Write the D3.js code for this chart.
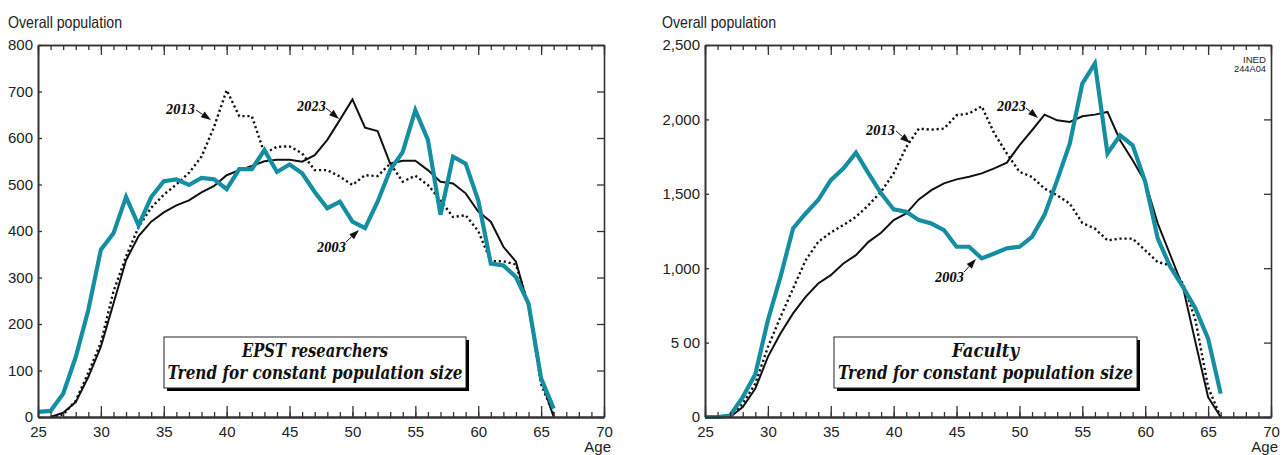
<!DOCTYPE html>
<html>
<head>
<meta charset="UTF-8">
<title>Population by age</title>
<script src="https://d3js.org/d3.v7.min.js"></script>
<style>
  body { margin: 0; background: #fff; }
  svg text { font-family: "Liberation Sans", Arial, sans-serif; fill: #222; }
  .serif { font-family: "DejaVu Serif Condensed", "DejaVu Serif", "Liberation Serif", serif !important; font-stretch: condensed; font-weight: bold; font-style: italic; fill: #111; }
</style>
</head>
<body>
<div id="chart"></div>
<script>
(function(d3) {

  // ages on the x axis
  var ages = [25, 26, 27, 28, 29, 30, 31, 32, 33, 34, 35, 36, 37, 38, 39, 40, 41, 42, 43, 44, 45,
              46, 47, 48, 49, 50, 51, 52, 53, 54, 55, 56, 57, 58, 59, 60, 61, 62, 63, 64, 65, 66];

  // EPST researchers
  var epst2003 = [11, 13, 50, 129, 230, 360, 395, 473, 412, 473, 507, 511, 499, 514, 511, 490, 533, 533, 574, 527, 543,
                  524, 484, 449, 463, 420, 406, 463, 531, 570, 660, 596, 435, 560, 545, 466, 330, 326, 301, 244, 83, 18];
  var epst2013 = [null, 0, 5, 35, 95, 160, 270, 345, 409, 450, 478, 500, 525, 560, 624, 703, 647, 647, 567, 581, 582,
                  567, 531, 531, 517, 499, 520, 518, 545, 506, 519, 499, 466, 430, 434, 400, 335, 335, 328, 240, 70, 5];
  var epst2023 = [null, 0, 9, 32, 86, 151, 244, 337, 389, 420, 440, 455, 466, 483, 497, 520, 531, 540, 550, 553, 553,
                  549, 563, 596, 639, 683, 622, 615, 545, 551, 551, 531, 506, 502, 481, 442, 420, 366, 334, 237, 80, 0];

  // Faculty
  var fac2003 = [0, 0, 10, 134, 287, 650, 942, 1267, 1368, 1458, 1592, 1670, 1776, 1637, 1503, 1395, 1379, 1323, 1300, 1256, 1144,
                 1144, 1066, 1099, 1133, 1144, 1211, 1360, 1592, 1837, 2241, 2376, 1771, 1893, 1826, 1580, 1199, 1008, 874, 728, 527, 157];
  var fac2013 = [null, null, 0, 90, 224, 470, 672, 863, 1053, 1177, 1240, 1290, 1345, 1424, 1514, 1637, 1814, 1938, 1931, 1938, 2028,
                 2040, 2088, 1906, 1771, 1648, 1613, 1535, 1490, 1434, 1304, 1266, 1187, 1199, 1199, 1120, 1041, 1019, 897, 650, 200, 0];
  var fac2023 = [null, null, 0, 67, 191, 404, 561, 696, 807, 897, 953, 1032, 1088, 1177, 1238, 1323, 1368, 1462, 1525, 1570, 1597,
                 1615, 1637, 1671, 1709, 1826, 1927, 2032, 1994, 1983, 2021, 2032, 2050, 1860, 1726, 1580, 1300, 1087, 874, 500, 134, 0];

  // tick labels
  var xTicks = [25, 30, 35, 40, 45, 50, 55, 60, 65, 70];
  var epstYTicks = [0, 100, 200, 300, 400, 500, 600, 700, 800];
  var epstYLabels = ["0", "100", "200", "300", "400", "500", "600", "700", "800"];
  var facYTicks = [0, 500, 1000, 1500, 2000, 2500];
  var facYLabels = ["0", "5 00", "1,000", "1,500", "2,000", "2,500"];

  var teal = "#168ea2";

  var svg = d3.select("#chart").append("svg")
      .attr("width", 1284)
      .attr("height", 455);

  function drawPanel(p) {
    var x = d3.scaleLinear().domain([25, 70]).range([p.left, p.right]);
    var y = d3.scaleLinear().domain([0, p.yMax]).range([p.bottom, p.top]);
    var g = svg.append("g");

    // y title
    g.append("text")
      .attr("x", p.titleX).attr("y", 28)
      .attr("font-size", 16.5)
      .attr("textLength", 114).attr("lengthAdjust", "spacingAndGlyphs")
      .text("Overall population");

    // lines
    var line = function(vals) {
      return d3.line()
        .defined(function(d, i) { return vals[i] != null; })
        .x(function(d, i) { return x(ages[i]); })
        .y(function(d, i) { return y(vals[i]); })(vals);
    };
    g.append("path").attr("d", line(p.s2013))
      .attr("fill", "none").attr("stroke", "#111").attr("stroke-width", 2.4)
      .attr("stroke-dasharray", "2.2,2.8");
    g.append("path").attr("d", line(p.s2023))
      .attr("fill", "none").attr("stroke", "#111").attr("stroke-width", 2)
      .attr("stroke-linejoin", "miter");
    g.append("path").attr("d", line(p.s2003))
      .attr("fill", "none").attr("stroke", teal).attr("stroke-width", 4.2)
      .attr("stroke-linejoin", "miter");

    // axes
    var minor = d3.range(25, 71);
    var axisStyle = function(sel, w) {
      sel.select(".domain").attr("stroke", "#333").attr("stroke-width", w);
      sel.selectAll(".tick line").attr("stroke", "#333").attr("stroke-width", 1.3);
      sel.selectAll("text").attr("font-size", 15).attr("fill", "#222")
        .style("font-family", "'Liberation Sans', Arial, sans-serif");
    };

    g.append("g").attr("transform", "translate(0," + p.top + ")")
      .call(d3.axisTop(x).tickValues(minor).tickSizeInner(-5).tickSizeOuter(0).tickFormat(""))
      .call(axisStyle, 1.6);
    g.append("g").attr("transform", "translate(0," + p.top + ")")
      .call(d3.axisTop(x).tickValues(xTicks).tickSizeInner(-10).tickSizeOuter(0).tickFormat(""))
      .call(axisStyle, 1.6);

    g.append("g").attr("transform", "translate(0," + p.bottom + ")")
      .call(d3.axisBottom(x).tickValues(minor).tickSizeInner(-5).tickSizeOuter(0).tickFormat(""))
      .call(axisStyle, 2);
    g.append("g").attr("transform", "translate(0," + p.bottom + ")")
      .call(d3.axisBottom(x).tickValues(xTicks).tickSizeInner(-11).tickSizeOuter(0).tickPadding(9))
      .call(axisStyle, 2);

    g.append("g").attr("transform", "translate(" + p.left + ",0)")
      .call(d3.axisLeft(y).tickValues(p.yTicks).tickSizeInner(-4).tickSizeOuter(0).tickPadding(5)
        .tickFormat(function(d, i) { return p.yLabels[i]; }))
      .call(axisStyle, 2);
    g.append("g").attr("transform", "translate(" + p.right + ",0)")
      .call(d3.axisRight(y).tickValues(p.yTicks).tickSizeInner(-7).tickSizeOuter(0).tickFormat(""))
      .call(axisStyle, 1.6);

    // annotations
    p.notes.forEach(function(n) {
      g.append("text").attr("class", "serif")
        .attr("x", n.tx).attr("y", n.ty)
        .attr("font-size", 13)
        .attr("textLength", 29).attr("lengthAdjust", "spacingAndGlyphs")
        .text(n.label);
      var dx = n.ax - n.bx, dy = n.ay - n.by;
      var len = Math.sqrt(dx * dx + dy * dy), ux = dx / len, uy = dy / len;
      var hx = n.ax - ux * 10, hy = n.ay - uy * 10;
      g.append("line")
        .attr("x1", n.bx).attr("y1", n.by).attr("x2", hx).attr("y2", hy)
        .attr("stroke", "#111").attr("stroke-width", 1);
      g.append("path")
        .attr("d", "M" + n.ax + "," + n.ay +
          "L" + (hx - uy * 3.5) + "," + (hy + ux * 3.5) +
          "L" + (hx + uy * 3.5) + "," + (hy - ux * 3.5) + "Z")
        .attr("fill", "#111");
    });

    // title box
    var b = p.box;
    g.append("rect").attr("x", b.x + 3).attr("y", b.y + 3).attr("width", b.w).attr("height", b.h)
      .attr("fill", "#000");
    g.append("rect").attr("x", b.x).attr("y", b.y).attr("width", b.w).attr("height", b.h)
      .attr("fill", "#fff").attr("stroke", "#222").attr("stroke-width", 1);
    g.append("text").attr("class", "serif")
      .attr("x", b.x + b.w / 2).attr("y", b.y + 20).attr("text-anchor", "middle")
      .attr("font-size", 19)
      .attr("textLength", b.l1w).attr("lengthAdjust", "spacingAndGlyphs")
      .text(b.line1);
    g.append("text").attr("class", "serif")
      .attr("x", b.x + b.w / 2).attr("y", b.y + 42).attr("text-anchor", "middle")
      .attr("font-size", 19)
      .attr("textLength", 295).attr("lengthAdjust", "spacingAndGlyphs")
      .text("Trend for constant population size");

    return g;
  }

  drawPanel({
    left: 38, right: 604, top: 45, bottom: 417, yMax: 800, titleX: 8,
    yTicks: epstYTicks, yLabels: epstYLabels,
    s2003: epst2003, s2013: epst2013, s2023: epst2023,
    notes: [
      { label: "2013", tx: 166, ty: 114, bx: 196, by: 110, ax: 211, ay: 120 },
      { label: "2023", tx: 297, ty: 111, bx: 326, by: 108, ax: 339, ay: 119 },
      { label: "2003", tx: 317, ty: 252, bx: 346, by: 242, ax: 359, ay: 230 }
    ],
    box: { x: 164, y: 337, w: 302, h: 51, line1: "EPST researchers", l1w: 146 }
  });

  var right = drawPanel({
    left: 705, right: 1271, top: 45, bottom: 417, yMax: 2500, titleX: 662,
    yTicks: facYTicks, yLabels: facYLabels,
    s2003: fac2003, s2013: fac2013, s2023: fac2023,
    notes: [
      { label: "2013", tx: 866, ty: 135, bx: 896, by: 131, ax: 910, ay: 143 },
      { label: "2023", tx: 997, ty: 111, bx: 1026, by: 108, ax: 1038, ay: 118 },
      { label: "2003", tx: 935, ty: 282, bx: 964, by: 272, ax: 976, ay: 259 }
    ],
    box: { x: 834, y: 337, w: 303, h: 51, line1: "Faculty", l1w: 67 }
  });

  // x axis title
  svg.append("text").attr("x", 611).attr("y", 452).attr("text-anchor", "end")
    .attr("font-size", 15).text("Age");
  svg.append("text").attr("x", 1278).attr("y", 452).attr("text-anchor", "end")
    .attr("font-size", 15).text("Age");

  // source code in the corner
  right.append("text").attr("x", 1266).attr("y", 63).attr("text-anchor", "end")
    .attr("font-size", 8.5).attr("textLength", 23).attr("lengthAdjust", "spacingAndGlyphs").text("INED");
  right.append("text").attr("x", 1266).attr("y", 72).attr("text-anchor", "end")
    .attr("font-size", 8.5).attr("textLength", 32).attr("lengthAdjust", "spacingAndGlyphs").text("244A04");

})(window.d3);
</script>
</body>
</html>
